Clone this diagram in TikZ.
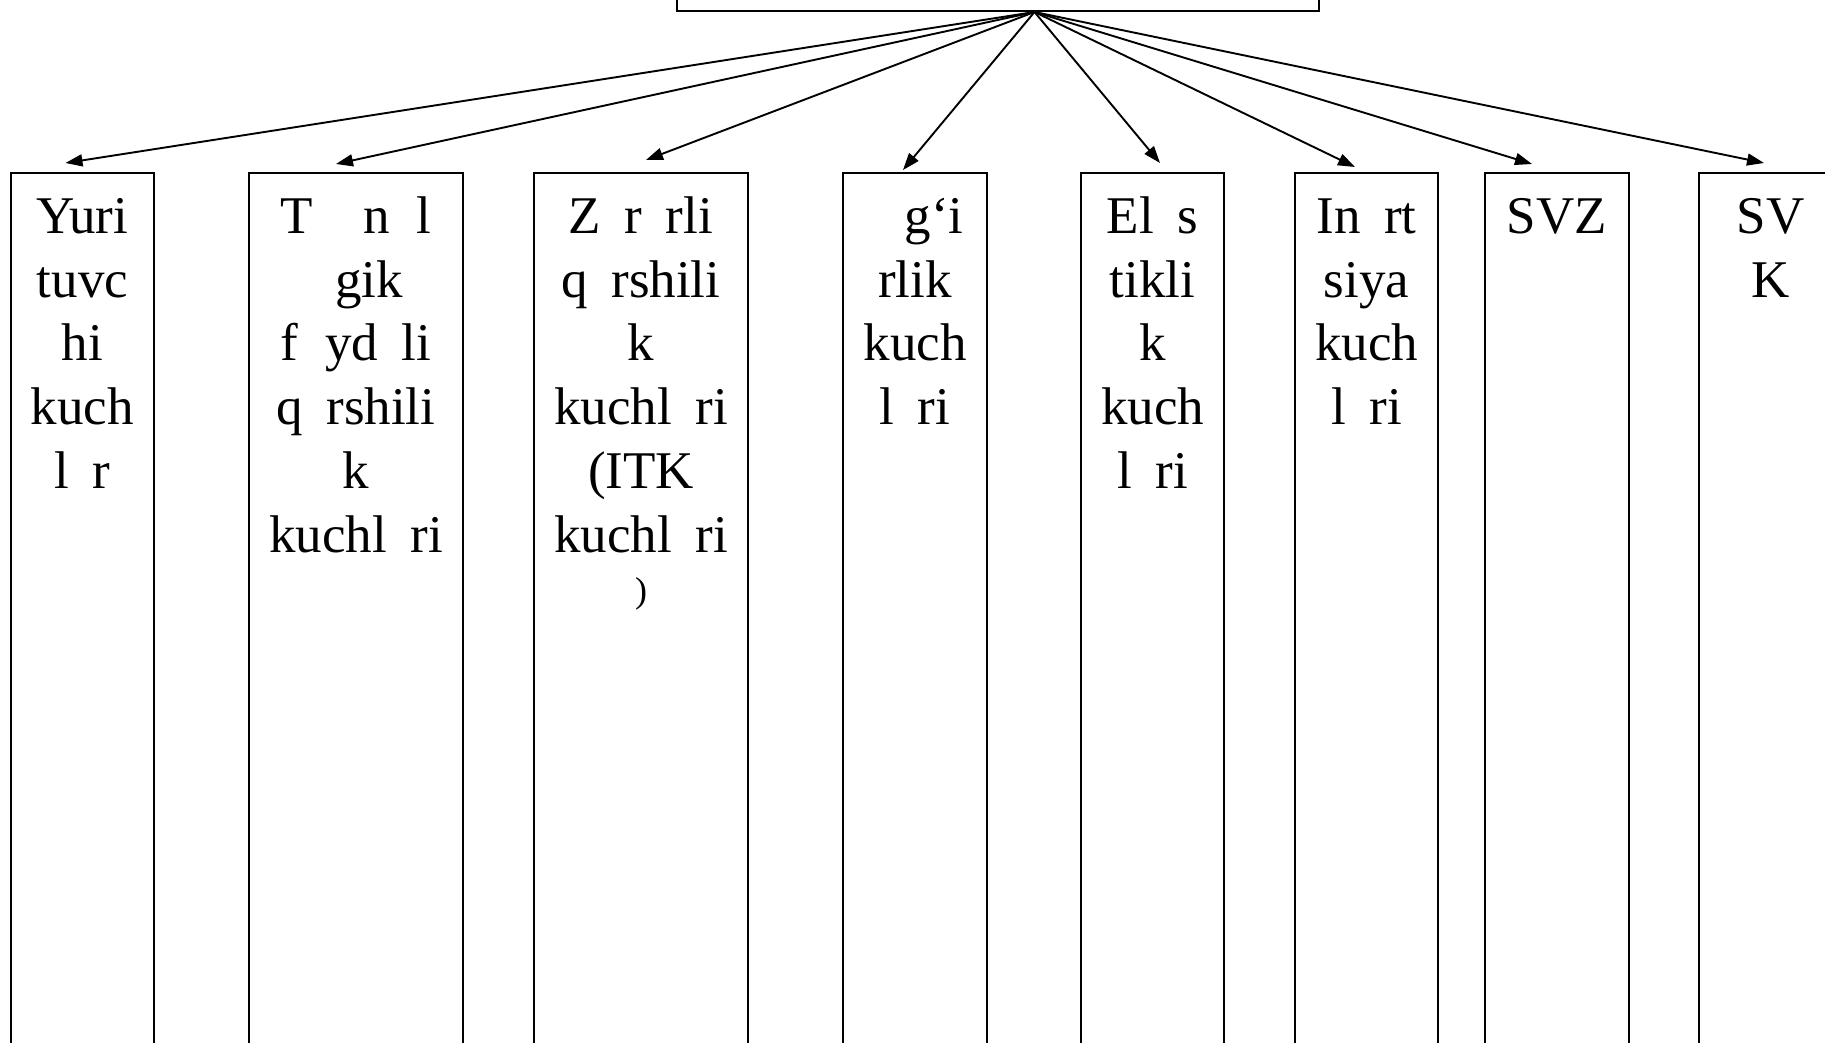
\documentclass[tikz,border=0pt]{standalone}
\usepackage{fontspec}
\setmainfont{Liberation Serif}
\usetikzlibrary{arrows.meta,calc}
\begin{document}
\begin{tikzpicture}[x=0.5pt,y=-0.5pt,
  boxst/.style={draw,line width=1.15pt,inner sep=0pt,anchor=north,minimum height=470pt,minimum width=#1},
  txt/.style={anchor=north,inner sep=0pt,align=center,font=\fontsize{26.5}{31.9}\selectfont},
  arr/.style={line width=0.95pt,-{Triangle[length=8.5pt,width=6pt]}}]
\useasboundingbox (0,0) rectangle (1825,1043);
\clip (0,0) rectangle (1825,1043);
% top box
\node[draw,line width=1.15pt,inner sep=0pt,anchor=south,minimum width=321pt,minimum height=60pt] (top) at (998,12) {};
\coordinate (org) at (1034.5,12);
% boxes
\node[boxst=71.5pt] (b1) at (82.5,172) {};
\node[boxst=107pt] (b2) at (356,172) {};
\node[boxst=107pt] (b3) at (641,172) {};
\node[boxst=72pt] (b4) at (915,172) {};
\node[boxst=71.5pt] (b5) at (1152.5,172) {};
\node[boxst=71.5pt] (b6) at (1366.5,172) {};
\node[boxst=72pt] (b7) at (1557,172) {};
\node[boxst=71.5pt] (b8) at (1770.5,172) {};
% texts
\node[txt] (t1) at (82.5,188.3) {\strut Yuri\\tuvc\\hi\\kuch\\l\phantom{a}r};
\node[txt] (t2) at (356,188.3) {\strut T\phantom{ex}n\phantom{o}l\\\phantom{o}gik\\f\phantom{o}yd\phantom{a}li\\q\phantom{a}rshili\\k\\kuchl\phantom{a}ri};
\node[txt] (t3) at (641,188.3) {\strut Z\phantom{a}r\phantom{a}rli\\q\phantom{a}rshili\\k\\kuchl\phantom{a}ri\\(ITK\\kuchl\phantom{a}ri};
\node[anchor=base,inner sep=0pt,font=\fontsize{18}{20}\selectfont] (t3p) at (641,602) {)};
\node[txt] (t4) at (915,188.3) {\strut\phantom{O}g‘i\\rlik\\kuch\\l\phantom{a}ri};
\node[txt] (t5) at (1152.5,188.3) {\strut El\phantom{a}s\\tikli\\k\\kuch\\l\phantom{a}ri};
\node[txt] (t6) at (1366.5,188.3) {\strut In\phantom{e}rt\\siya\\kuch\\l\phantom{a}ri};
\node[txt] (t7) at (1557,188.3) {\strut SVZ};
\node[txt] (t8) at (1770.5,188.3) {\strut SV\\K};
% arrows
\draw[arr] (org) -- ($(b1.north)+(-17,-9)$);
\draw[arr] (org) -- ($(b2.north)+(-20,-8)$);
\draw[arr] (org) -- ($(b3.north)+(5,-12)$);
\draw[arr] (org) -- ($(b4.north)+(-12,-2)$);
\draw[arr] (org) -- ($(b5.north)+(7.5,-9)$);
\draw[arr] (org) -- ($(b6.north)+(-11.5,-5)$);
\draw[arr] (org) -- ($(b7.north)+(-25,-8)$);
\draw[arr] (org) -- ($(b8.north)+(-6.5,-9)$);
\end{tikzpicture}
\end{document}
